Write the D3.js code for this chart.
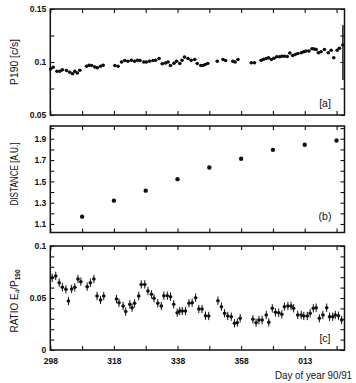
<!DOCTYPE html>
<html><head><meta charset="utf-8">
<script src="https://cdn.jsdelivr.net/npm/d3@7"></script>
<style>body{margin:0;background:#fff}svg{display:block}</style>
</head><body>
<svg id="c" width="356" height="383"></svg>
<script>
// Panel (a): P190 counting rate
const pDay = [298.1,298.9,300.1,301.0,301.8,303.1,304.1,305.0,305.7,306.5,307.3,309.4,310.2,311.0,312.0,312.8,313.8,314.6,318.3,319.3,320.4,321.4,322.4,323.5,324.5,325.4,326.2,327.4,328.2,329.2,330.3,331.1,332.2,333.2,334.2,335.0,335.8,336.9,337.7,338.7,339.4,340.2,341.3,342.3,343.4,344.2,345.3,346.0,346.7,347.5,350.5,352.3,353.1,355.4,356.1,357.0,361.2,362.2,364.3,365.1,365.9,366.6,367.5,368.3,369.2,370.1,370.8,371.6,372.5,373.3,374.2,375.0,375.8,376.9,377.7,378.4,379.3,380.3,381.0,381.6,382.3,383.1,384.2,385.4,386.3,387.1,388.2,388.9,390.0];
const pRate = [0.0935,0.095,0.0912,0.0912,0.0926,0.0919,0.0903,0.089,0.0912,0.0897,0.0922,0.096,0.097,0.0967,0.0954,0.0945,0.096,0.097,0.0967,0.096,0.1,0.1014,0.1008,0.1017,0.1008,0.1017,0.1014,0.1,0.1,0.1008,0.1014,0.1017,0.1033,0.0983,0.099,0.1,0.0968,0.0988,0.1008,0.0986,0.1017,0.1046,0.1033,0.1017,0.1024,0.0986,0.0967,0.0967,0.0976,0.0986,0.1008,0.1024,0.1014,0.1008,0.1,0.1024,0.0992,0.0992,0.1017,0.1027,0.1033,0.104,0.1024,0.1036,0.105,0.105,0.1055,0.1055,0.1052,0.1084,0.1062,0.1071,0.108,0.1087,0.1097,0.1103,0.1103,0.1126,0.1122,0.1119,0.1087,0.1097,0.1119,0.1087,0.111,0.104,0.111,0.1129,0.116];
const pErr = 0.0012;
const pLastErr = [0.083, 0.135];

// Panel (b): heliocentric distance
const dDay = [308,318,328,338,348,358,368,378,388];
const dVal = [1.169,1.319,1.413,1.521,1.630,1.712,1.796,1.844,1.884];

// Panel (c): ratio E4/P190
const rDay = [298.6,299.7,300.8,301.8,302.9,303.7,304.7,305.7,306.7,307.6,309.6,310.6,311.7,312.7,313.8,314.8,318.8,319.6,320.9,321.7,323.0,323.7,324.5,325.8,326.6,327.7,328.7,329.8,330.6,331.8,332.9,333.7,334.8,335.8,336.8,337.9,338.7,339.5,340.5,341.6,342.6,343.7,344.7,345.7,346.8,347.8,350.7,351.8,352.8,353.8,354.9,355.9,356.8,357.7,361.7,362.7,363.6,364.6,365.9,366.7,367.8,368.8,369.8,370.8,371.6,372.7,373.7,374.5,375.8,376.9,377.7,378.8,379.7,380.7,381.6,382.6,383.7,384.9,385.8,386.8,387.6,388.6,389.6];
const rVal = [0.0695,0.0712,0.0647,0.0603,0.0583,0.0471,0.0587,0.0603,0.0683,0.0657,0.0609,0.0647,0.0683,0.0519,0.0481,0.0519,0.049,0.0455,0.0423,0.0369,0.0439,0.0407,0.0449,0.0519,0.0631,0.0631,0.0567,0.0535,0.0497,0.0449,0.0423,0.0522,0.0522,0.0513,0.0439,0.0359,0.0375,0.0375,0.0375,0.0449,0.0455,0.0503,0.0394,0.0394,0.033,0.0327,0.0474,0.0417,0.0353,0.0327,0.032,0.0257,0.0263,0.0305,0.0295,0.0263,0.0288,0.0288,0.0337,0.0266,0.0401,0.0362,0.0359,0.0343,0.0417,0.0423,0.0423,0.0401,0.0337,0.0337,0.0327,0.0327,0.0353,0.0401,0.0407,0.0305,0.0337,0.0407,0.032,0.032,0.0337,0.033,0.0288];
const rErr = 0.004;

// Axes
const xTicks = [298,308,318,328,338,348,358,368,378,388];
const xTickLabels = {298:"298",318:"318",338:"338",358:"358",378:"013"};
const aTicks = [0.05,0.075,0.1,0.125,0.15];
const aTickLabels = {0.05:"0.05",0.1:"0.1",0.15:"0.15"};
const bTicks = [1.1,1.2,1.3,1.4,1.5,1.6,1.7,1.8,1.9,2.0];
const bTickLabels = {1.1:"1.1",1.3:"1.3",1.5:"1.5",1.7:"1.7",1.9:"1.9"};
const cTicks = [0,0.01,0.02,0.03,0.04,0.05,0.06,0.07,0.08,0.09,0.1];
const cTickLabels = {0:"0",0.05:"0.05",0.1:"0.1"};

const svg = d3.select("#c");
const ink = "#111";
const font = "'Liberation Sans', Arial, sans-serif";
const X0 = 50.3, X1 = 344.5;
const x = d3.scaleLinear().domain([298, 390.5]).range([X0, X1]);

const panels = [
  {key:"a", y: d3.scaleLinear().domain([0.05,0.15]).range([115,9]), ticks:aTicks, labels:aTickLabels, tag:"[a]", tagY:107},
  {key:"b", y: d3.scaleLinear().domain([1.02,2.02]).range([232.5,126]), ticks:bTicks, labels:bTickLabels, tag:"(b)", tagY:220},
  {key:"c", y: d3.scaleLinear().domain([0,0.1]).range([350,246]), ticks:cTicks, labels:cTickLabels, tag:"[c]", tagY:342}
];

function fmt(map){ return d => { const k = Object.keys(map).find(v => Math.abs(+v - d) < 1e-9); return k !== undefined ? map[k] : ""; }; }

panels.forEach((p, i) => {
  const g = svg.append("g");
  const [yb, yt] = p.y.range();
  g.append("rect").attr("x", X0).attr("y", yt).attr("width", X1 - X0).attr("height", yb - yt)
    .attr("fill", "none").attr("stroke", ink).attr("stroke-width", 1.5);
  const bx = g.append("g").attr("transform", `translate(0,${yb})`)
    .call(d3.axisBottom(x).tickValues(xTicks).tickSize(-4).tickPadding(8)
      .tickFormat(i === 2 ? fmt(xTickLabels) : () => ""));
  const tx = g.append("g").attr("transform", `translate(0,${yt})`)
    .call(d3.axisTop(x).tickValues(xTicks).tickSize(-4).tickFormat(() => ""));
  const ly = g.append("g").attr("transform", `translate(${X0},0)`)
    .call(d3.axisLeft(p.y).tickValues(p.ticks).tickSize(-4).tickPadding(4).tickFormat(fmt(p.labels)));
  const ry = g.append("g").attr("transform", `translate(${X1},0)`)
    .call(d3.axisRight(p.y).tickValues(p.ticks).tickSize(-4).tickFormat(() => ""));
  [bx, tx, ly, ry].forEach(a => {
    a.select(".domain").remove();
    a.selectAll("line").attr("stroke", ink).attr("stroke-width", 1.1);
    a.selectAll("text").attr("fill", ink).attr("font-family", font).attr("font-size", 8.5).attr("font-weight", "bold");
  });
  g.append("text").attr("x", 325).attr("y", p.tagY).attr("text-anchor", "middle")
    .attr("font-family", font).attr("font-size", 10.5).attr("fill", ink).text(p.tag);
  p.g = g;
});

// Panel a marks
const ya = panels[0].y, ga = panels[0].g;
const aData = pDay.map((d, i) => ({d, v: pRate[i], last: i === pDay.length - 1}));
ga.selectAll(".eh").data(aData).join("line")
  .attr("x1", d => x(d.d - 0.55)).attr("x2", d => x(d.d + 0.55))
  .attr("y1", d => ya(d.v)).attr("y2", d => ya(d.v)).attr("stroke", ink).attr("stroke-width", 1);
ga.selectAll(".ev").data(aData).join("line")
  .attr("x1", d => x(d.d)).attr("x2", d => x(d.d))
  .attr("y1", d => ya(d.last ? pLastErr[0] : d.v - pErr)).attr("y2", d => ya(d.last ? pLastErr[1] : d.v + pErr))
  .attr("stroke", ink).attr("stroke-width", d => d.last ? 1.4 : 1);
ga.selectAll("circle").data(aData).join("circle")
  .attr("cx", d => x(d.d)).attr("cy", d => ya(d.v)).attr("r", 1.75).attr("fill", ink);

// Panel b marks
const yb = panels[1].y;
panels[1].g.selectAll("circle").data(dDay.map((d, i) => ({d, v: dVal[i]}))).join("circle")
  .attr("cx", d => x(d.d)).attr("cy", d => yb(d.v)).attr("r", 2.2).attr("fill", ink);

// Panel c marks
const yc = panels[2].y, gc = panels[2].g;
const cData = rDay.map((d, i) => ({d, v: rVal[i]}));
gc.selectAll(".ev").data(cData).join("line")
  .attr("x1", d => x(d.d)).attr("x2", d => x(d.d))
  .attr("y1", d => yc(d.v - rErr)).attr("y2", d => yc(d.v + rErr)).attr("stroke", ink).attr("stroke-width", 1);
gc.selectAll(".eh").data(cData).join("line")
  .attr("x1", d => x(d.d - 0.5)).attr("x2", d => x(d.d + 0.5))
  .attr("y1", d => yc(d.v)).attr("y2", d => yc(d.v)).attr("stroke", ink).attr("stroke-width", 1);
gc.selectAll("circle").data(cData).join("circle")
  .attr("cx", d => x(d.d)).attr("cy", d => yc(d.v)).attr("r", 1.75).attr("fill", ink);

// Y axis titles
function ylab(cy, len){
  return svg.append("text").attr("transform", `translate(17.5,${cy}) rotate(-90)`)
    .attr("text-anchor", "middle").attr("font-family", font).attr("font-size", 10)
    .attr("fill", ink).attr("textLength", len).attr("lengthAdjust", "spacingAndGlyphs");
}
ylab(62, 46).text("P190 [c/s]");
ylab(174, 63).text("DISTANCE [A.U.]");
const rt = svg.append("text").attr("transform", `translate(17.5,301) rotate(-90)`)
  .attr("text-anchor", "middle").attr("font-family", font).attr("font-size", 10).attr("fill", ink);
rt.append("tspan").text("RATIO E");
rt.append("tspan").attr("font-size", 6.5).attr("dy", 2).text("4");
rt.append("tspan").attr("dy", -2).text("/P");
rt.append("tspan").attr("font-size", 6.5).attr("dy", 2).attr("font-weight", "bold").text("190");

// X axis title
svg.append("text").attr("x", 352).attr("y", 379).attr("text-anchor", "end")
  .attr("font-family", font).attr("font-size", 10).attr("fill", ink)
  .attr("textLength", 77).attr("lengthAdjust", "spacingAndGlyphs").text("Day of year 90/91");
</script>
</body></html>
